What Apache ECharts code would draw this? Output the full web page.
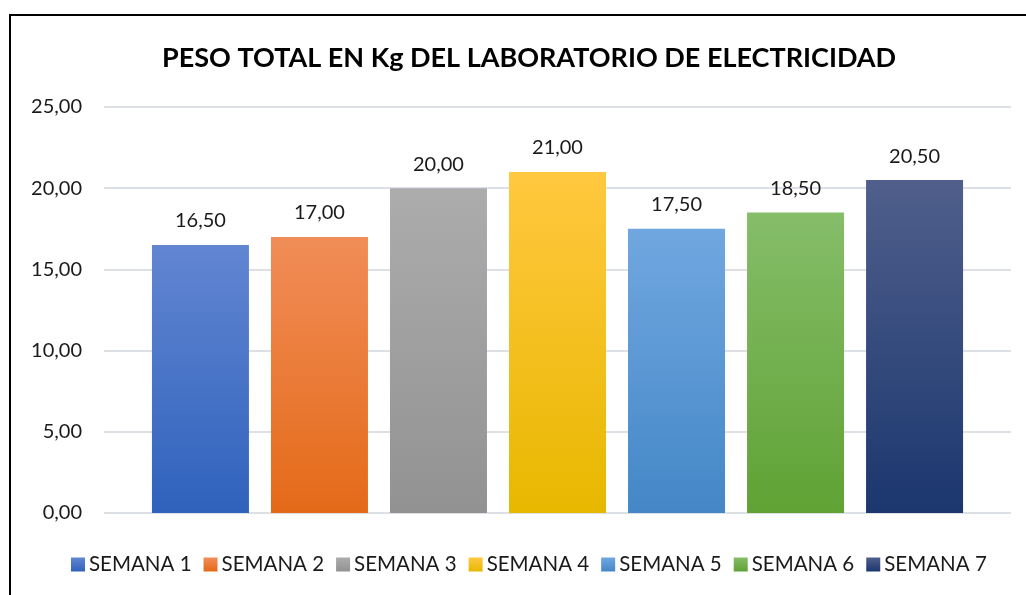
<!DOCTYPE html>
<html>
<head>
<meta charset="utf-8">
<script src="https://cdn.jsdelivr.net/npm/echarts@6/dist/echarts.min.js"></script>
<style>
  html, body { margin: 0; padding: 0; background: #fff; }
  #main { width: 1026px; height: 595px; }
</style>
</head>
<body>
<div id="main"></div>
<script>
"use strict";

// datos
const weeks = ["SEMANA 1", "SEMANA 2", "SEMANA 3", "SEMANA 4", "SEMANA 5", "SEMANA 6", "SEMANA 7"];
const weights = [16.5, 17, 20, 21, 17.5, 18.5, 20.5];
const categories = [""];

// colores: arriba / abajo
const topColors = ["#6286D2", "#F18D58", "#ACACAC", "#FFC83F", "#70A7E0", "#85BD69", "#505F8C"];
const bottomColors = ["#2F62BC", "#E46A18", "#929292", "#E7B800", "#4487C7", "#60A234", "#1B376E"];

const fmt = (v) => Number(v).toFixed(2).replace(".", ",");
const font = "Lato, 'Open Sans', sans-serif";

const chart = echarts.init(document.getElementById("main"));

chart.setOption({
  animation: false,
  title: {
    text: "PESO TOTAL EN Kg DEL LABORATORIO DE ELECTRICIDAD",
    left: 157,
    top: 40,
    textStyle: { fontFamily: font, fontSize: 27, fontWeight: "bold", color: "#000" },
  },
  legend: {
    bottom: 15,
    left: 66,
    itemWidth: 14,
    itemHeight: 14,
    itemGap: 12,
    icon: "rect",
    textStyle: { fontFamily: font, fontSize: 20.5, color: "#1a1a1a", padding: [0, 0, 0, -1] },
    data: weeks,
  },
  grid: { left: 104, right: 15, top: 107, bottom: 82, containLabel: false },
  xAxis: {
    type: "category",
    data: categories,
    axisLine: { show: false },
    axisTick: { show: false },
    axisLabel: { show: false },
  },
  yAxis: {
    type: "value",
    min: 0,
    max: 25,
    interval: 5,
    axisLine: { show: false },
    axisTick: { show: false },
    axisLabel: {
      margin: 22,
      formatter: fmt,
      fontFamily: font,
      fontSize: 20,
      color: "#1a1a1a",
    },
    splitLine: { lineStyle: { color: "#DDE1E6", width: 2 } },
  },
  graphic: [
    {
      type: "rect",
      shape: { x: 10, y: 15, width: 1200, height: 800 },
      style: { fill: "none", stroke: "#000", lineWidth: 2 },
      silent: true,
    },
  ],
  series: weeks.map((name, i) => ({
    name,
    type: "bar",
    barWidth: 97,
    barGap: "22.7%",
    data: [weights[i]],
    itemStyle: {
      color: new echarts.graphic.LinearGradient(0, 0, 0, 1, [
        { offset: 0, color: topColors[i] },
        { offset: 1, color: bottomColors[i] },
      ]),
    },
    label: {
      show: true,
      position: "top",
      distance: 14,
      formatter: (p) => fmt(p.value),
      fontFamily: font,
      fontSize: 20,
      color: "#1a1a1a",
    },
  })),
});
</script>
</body>
</html>
